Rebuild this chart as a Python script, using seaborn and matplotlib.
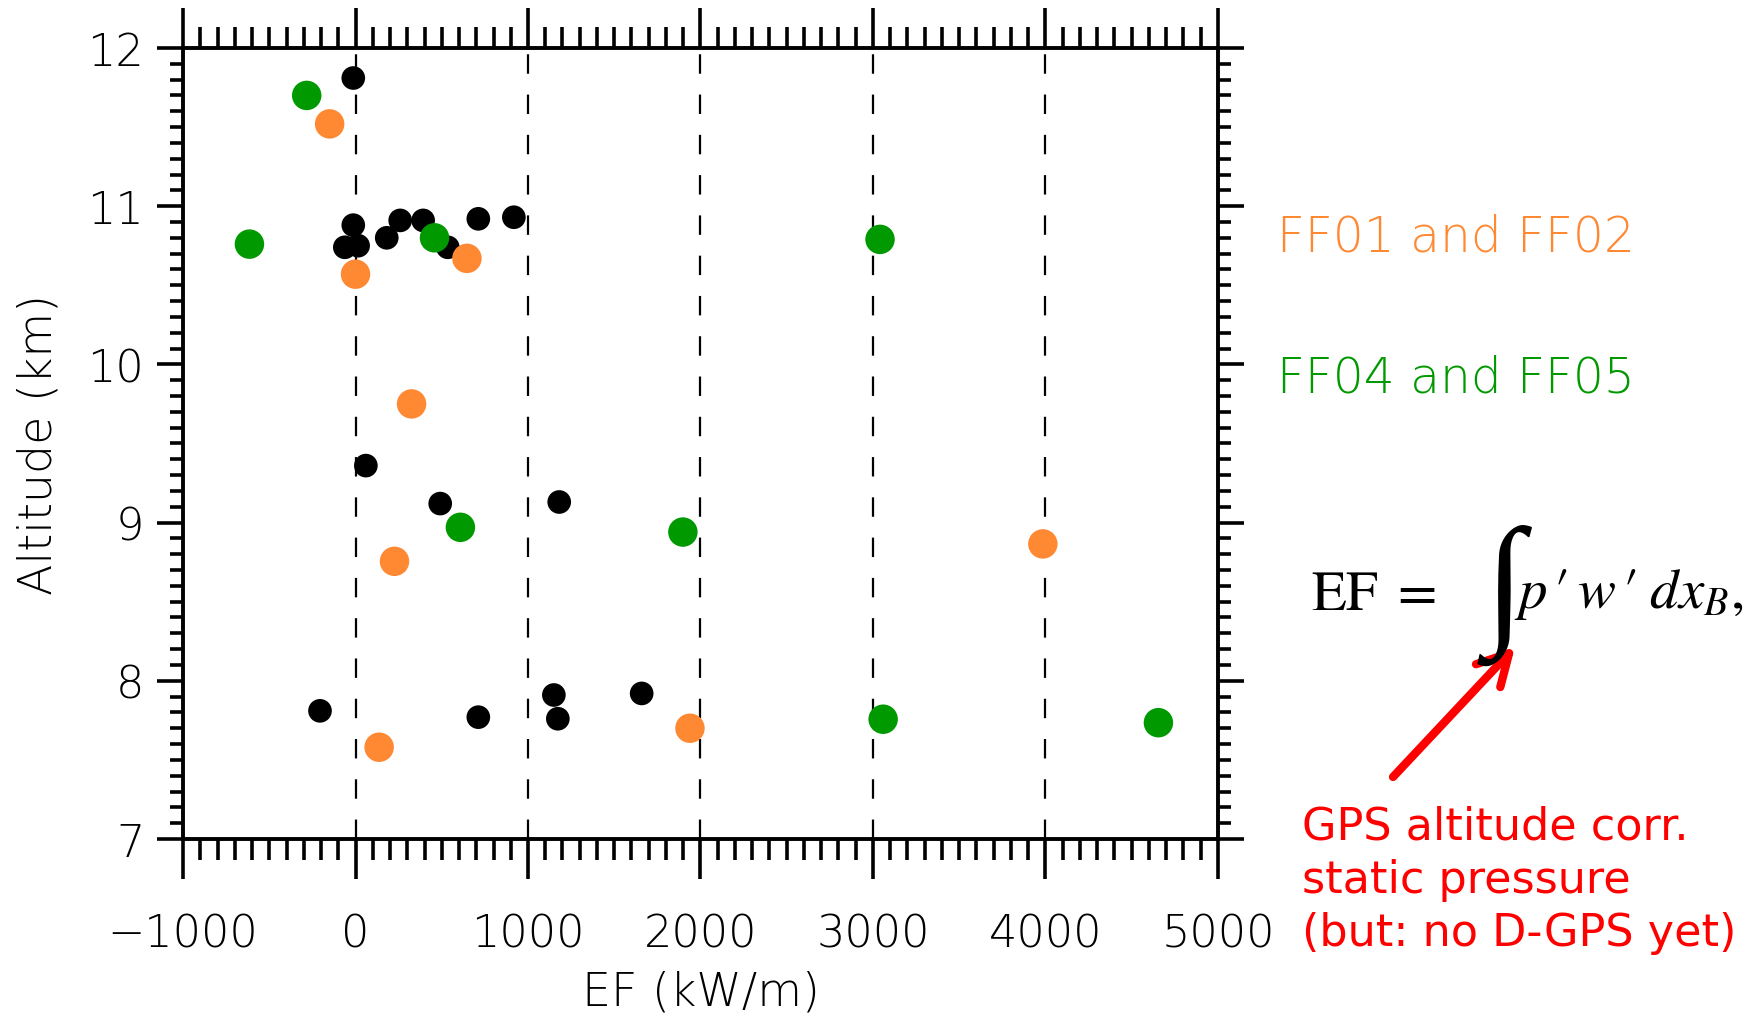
import numpy as np
import pandas as pd
import matplotlib
matplotlib.use("Agg")
import matplotlib.pyplot as plt
import seaborn as sns
from matplotlib.ticker import MultipleLocator

# Energy flux (kW/m) and altitude (km) per flight leg
other_ef = [-13, -13, -62, 15, 181, 259, 392, 535, 712, 918,
            60, 491, 1181, -206, 712, 1150, 1173, 1659]
other_alt = [11.81, 10.88, 10.74, 10.75, 10.80, 10.91, 10.91, 10.74, 10.92, 10.93,
             9.36, 9.12, 9.13, 7.81, 7.77, 7.91, 7.76, 7.92]

ff12_ef = [-150, 0, 646, 325, 226, 137, 1939, 3985]
ff12_alt = [11.52, 10.57, 10.67, 9.75, 8.755, 7.58, 7.70, 8.865]

ff45_ef = [-283, -615, 458, 3041, 608, 1898, 3059, 4655]
ff45_alt = [11.70, 10.76, 10.80, 10.79, 8.97, 8.94, 7.757, 7.735]

group_names = ["other", "FF01 and FF02", "FF04 and FF05"]
group_colors = ["#000000", "#FF8833", "#009900"]

x_ticks = [-1000, 0, 1000, 2000, 3000, 4000, 5000]
y_ticks = [7, 8, 9, 10, 11, 12]
dashed_x = [0, 1000, 2000, 3000, 4000]

df = pd.concat([
    pd.DataFrame({"EF": other_ef, "alt": other_alt, "group": group_names[0]}),
    pd.DataFrame({"EF": ff12_ef, "alt": ff12_alt, "group": group_names[1]}),
    pd.DataFrame({"EF": ff45_ef, "alt": ff45_alt, "group": group_names[2]}),
], ignore_index=True)

sns.set_style("white")
plt.rcParams["font.family"] = ["DejaVu Sans"]
plt.rcParams["lines.scale_dashes"] = False
plt.rcParams["mathtext.fontset"] = "stix"
plt.rcParams["axes.labelcolor"] = "black"
plt.rcParams["text.color"] = "black"

fig = plt.figure(figsize=(17.6, 10.2), dpi=100)
ax = fig.add_axes([0.104, 0.1765, 0.588, 0.7755])

for xv in dashed_x:
    ax.axvline(xv, color="black", lw=1.6, ls=(0, (14, 15)), zorder=1)

palette = dict(zip(group_names, group_colors))
sizes = {group_names[0]: 290, group_names[1]: 450, group_names[2]: 450}
sns.scatterplot(data=df, x="EF", y="alt", hue="group", size="group",
                palette=palette, sizes=sizes, hue_order=group_names,
                size_order=group_names, edgecolor="none", linewidth=0,
                legend=False, ax=ax, zorder=3)

ax.set_xlim(-1000, 5000)
ax.set_ylim(7, 12)
ax.set_xticks(x_ticks)
ax.set_yticks(y_ticks)
ax.set_xticklabels(["\u22121000"] + [str(v) for v in x_ticks[1:]])
ax.xaxis.set_minor_locator(MultipleLocator(100))
ax.yaxis.set_minor_locator(MultipleLocator(0.1))

for sp in ax.spines.values():
    sp.set_visible(True)
    sp.set_color("black")
    sp.set_linewidth(2.8)

ax.tick_params(axis="x", which="major", direction="out", length=29, width=2.6,
               top=True, bottom=True, labeltop=False, labelsize=32, pad=24,
               color="black", labelcolor="black")
ax.tick_params(axis="x", which="minor", direction="out", length=15, width=2.6,
               top=True, bottom=True, color="black")
ax.tick_params(axis="y", which="major", direction="out", length=19, width=2.6,
               left=True, right=True, labelright=False, labelsize=32, pad=9,
               color="black", labelcolor="black")
ax.tick_params(axis="y", which="minor", direction="out", length=9.5, width=2.6,
               left=True, right=True, color="black")
for lab in ax.get_xticklabels() + ax.get_yticklabels():
    lab.set_fontweight("light")

ax.set_xlabel("EF (kW/m)", fontsize=33, fontweight="light")
ax.set_ylabel("Altitude (km)", fontsize=33, fontweight="light")
ax.xaxis.set_label_coords(0.5, -0.165)
ax.yaxis.set_label_coords(-0.118, 0.5)

fig.text(0.7256, 0.7667, "FF01 and FF02", color=group_colors[1], fontsize=35,
         fontweight="light", va="center", ha="left")
fig.text(0.7256, 0.6294, "FF04 and FF05", color=group_colors[2], fontsize=35,
         fontweight="light", va="center", ha="left")

# Energy-flux definition, with a tall integral sign
fig.text(0.745, 0.4167, r"$\mathrm{EF}\;=$", fontsize=41, va="center", ha="left")
fig.text(0.8545, 0.416, "\u222b", fontsize=104,
         family=["Liberation Serif", "DejaVu Serif"], va="center", ha="center")
fig.text(0.8605, 0.4167, r"$p\,\prime\, w\,\prime\; dx_{B},$", fontsize=41,
         va="center", ha="left")

fig.text(0.740, 0.210, "GPS altitude corr.\nstatic pressure\n(but: no D-GPS yet)",
         color="#FF0000", fontsize=32, va="top", ha="left", linespacing=1.3)

ax.annotate("", xy=(0.8608, 0.3647), xycoords="figure fraction",
            xytext=(0.7915, 0.2373), textcoords="figure fraction",
            arrowprops=dict(arrowstyle="->,head_length=0.55,head_width=0.3",
                            mutation_scale=40, color="#FF0000", lw=6,
                            shrinkA=0, shrinkB=0, capstyle="round"),
            annotation_clip=False)

fig.savefig("out.png", dpi=100, facecolor="white")
